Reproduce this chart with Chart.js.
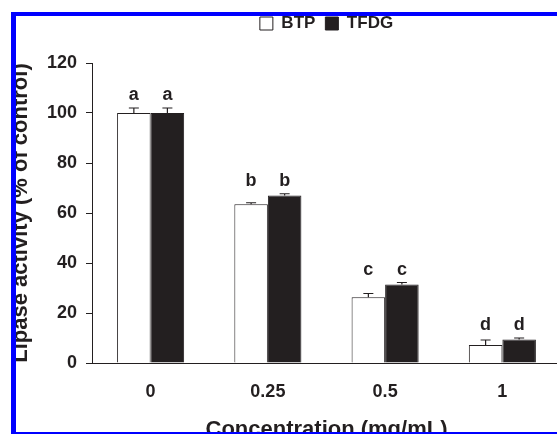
<!DOCTYPE html>
<html>
<head>
<meta charset="utf-8">
<script src="https://cdn.jsdelivr.net/npm/chart.js@4"></script>
<style>
  html, body { margin: 0; padding: 0; background: #fff; overflow: hidden; }
  #wrap { position: relative; width: 557px; height: 434px; overflow: hidden; }
  #chart-box { position: absolute; left: 0; top: 0; width: 566px; height: 450px; }
  #frame {
    position: absolute; left: 11px; top: 12px; width: 600px; height: 422px;
    box-sizing: border-box; border-left: 5px solid #0000ff; border-top: 4px solid #0000ff;
    border-bottom: 2px solid #0000ff; pointer-events: none;
  }
</style>
</head>
<body>
<div id="wrap">
  <div id="chart-box"><canvas id="lipaseChart" width="566" height="450"></canvas></div>
  <div id="frame"></div>
</div>
<script>
const categories = ['0', '0.25', '0.5', '1'];
const btpValues = [100, 63.5, 26.3, 7.2];
const btpErrors = [2.0, 0.6, 1.5, 2.0];
const tfdgValues = [100, 67.0, 31.4, 9.4];
const tfdgErrors = [2.0, 0.7, 0.8, 0.6];
const groupLetters = ['a', 'b', 'c', 'd'];

const ink = '#231f20';
const errorBars = [btpErrors, tfdgErrors];

Chart.defaults.font.family = '"Liberation Sans", Arial, sans-serif';
Chart.defaults.font.weight = 'bold';
Chart.defaults.color = ink;

// extra room between the legend and the plot
const legendGap = {
    id: 'legendGap',
    beforeInit(chart) {
        const fitValue = chart.legend.fit;
        chart.legend.fit = function () {
            fitValue.bind(chart.legend)();
            this.height += 21;
        };
    }
};

// upper error bars plus the significance letters above each group
const errorAndLetters = {
    id: 'errorAndLetters',
    afterDatasetsDraw(chart) {
        const ctx = chart.ctx;
        const y = chart.scales.y;
        const groupTop = categories.map(() => Infinity);
        ctx.save();
        ctx.strokeStyle = ink;
        ctx.lineWidth = 1.2;
        chart.data.datasets.forEach((ds, d) => {
            const meta = chart.getDatasetMeta(d);
            meta.data.forEach((bar, i) => {
                const topY = y.getPixelForValue(ds.data[i] + errorBars[d][i]);
                ctx.beginPath();
                ctx.moveTo(bar.x, bar.y);
                ctx.lineTo(bar.x, topY);
                ctx.moveTo(bar.x - 5, topY);
                ctx.lineTo(bar.x + 5, topY);
                ctx.stroke();
                groupTop[i] = Math.min(groupTop[i], topY);
            });
        });
        ctx.fillStyle = ink;
        ctx.font = 'bold 18px "Liberation Sans", Arial, sans-serif';
        ctx.textAlign = 'center';
        ctx.textBaseline = 'alphabetic';
        chart.data.datasets.forEach((ds, d) => {
            chart.getDatasetMeta(d).data.forEach((bar, i) => {
                ctx.fillText(groupLetters[i], bar.x, groupTop[i] - 8);
            });
        });
        ctx.restore();
    }
};

const ctx = document.getElementById('lipaseChart').getContext('2d');
new Chart(ctx, {
    type: 'bar',
    data: {
        labels: categories,
        datasets: [{
            label: 'BTP',
            data: btpValues,
            backgroundColor: '#ffffff',
            borderColor: ink,
            borderWidth: 1
        }, {
            label: 'TFDG',
            data: tfdgValues,
            backgroundColor: ink,
            borderColor: ink,
            borderWidth: 1
        }]
    },
    options: {
        responsive: false,
        animation: false,
        categoryPercentage: 0.572,
        barPercentage: 1,
        layout: { padding: { top: 5, left: 0, right: 5, bottom: 0 } },
        plugins: {
            legend: {
                position: 'top',
                fullSize: false,
                labels: {
                    boxWidth: 13,
                    boxHeight: 13,
                    padding: 10,
                    color: ink,
                    font: { size: 17, weight: 'bold' }
                }
            },
            tooltip: { enabled: false }
        },
        scales: {
            x: {
                grid: { display: false, drawTicks: false },
                border: { display: true, color: ink, width: 1 },
                ticks: { padding: 18, color: ink, font: { size: 18, weight: 'bold' } },
                title: {
                    display: true,
                    text: 'Concentration (mg/mL)',
                    color: ink,
                    font: { size: 22, weight: 'bold' },
                    padding: { top: 0, bottom: 7 }
                },
                afterFit(scale) { scale.height = 450 - 363; }
            },
            y: {
                min: 0,
                max: 120,
                ticks: { stepSize: 20, padding: 9, color: ink, font: { size: 18, weight: 'bold' } },
                grid: { drawOnChartArea: false, drawTicks: true, tickLength: 6, color: ink },
                border: { display: true, color: ink, width: 1 },
                title: {
                    display: true,
                    text: 'Lipase activity (% of control)',
                    color: ink,
                    font: { size: 22, weight: 'bold' },
                    padding: { top: 8, bottom: 0 }
                },
                afterFit(scale) { scale.width = 92; }
            }
        }
    },
    plugins: [legendGap, errorAndLetters]
});
</script>
</body>
</html>
